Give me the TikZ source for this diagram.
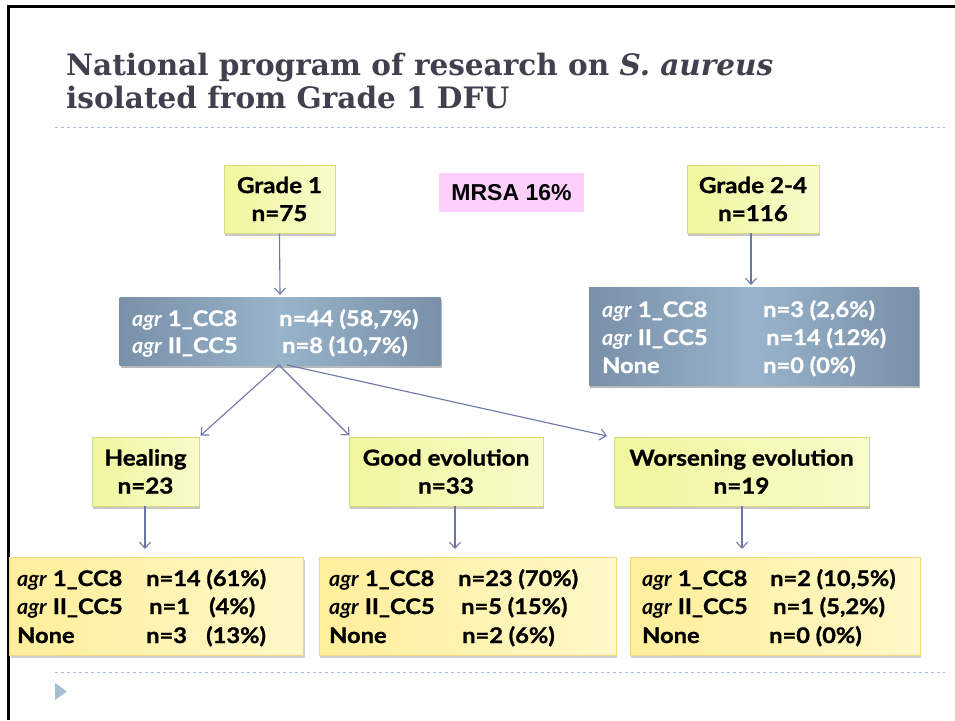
\documentclass[tikz,border=0pt]{standalone}
\usepackage{fontspec}
\setmainfont{Lato}[BoldFeatures={FakeBold=1.1, FakeStretch=1.1}]
\newfontfamily\titlefont{DejaVu Serif}
\newfontfamily\arialfont{Liberation Sans}
\usetikzlibrary{arrows.meta,shadows}
\definecolor{titlecol}{HTML}{40404E}
\definecolor{dashcol}{HTML}{A9BDD2}
\definecolor{arrowcol}{HTML}{6B76A6}
\definecolor{ybox}{HTML}{F0F69C}
\definecolor{yboxl}{HTML}{F8FBCB}
\definecolor{yborder}{HTML}{D5DD82}
\definecolor{gbox}{HTML}{FFEE9A}
\definecolor{gboxl}{HTML}{FFF8C8}
\definecolor{gborder}{HTML}{F2D784}
\definecolor{bbox}{HTML}{7890A8}
\definecolor{bboxl}{HTML}{98B3CA}
\definecolor{pinkbox}{HTML}{FDCFFB}
\definecolor{tricol}{HTML}{A6BED4}
\tikzset{
  ybx/.style={draw=yborder, line width=1pt, left color=ybox, right color=yboxl,
    drop shadow={shadow xshift=1pt, shadow yshift=-3pt, fill=black!22, opacity=1},
    align=center, font=\bfseries\fontsize{22}{28}\selectfont, inner sep=0pt},
  gbx/.style={draw=gborder, line width=1pt, left color=gbox, right color=gboxl,
    drop shadow={shadow xshift=1pt, shadow yshift=-3pt, fill=black!18, opacity=1}, inner sep=0pt},
  bbx/.style={draw=none, left color=bbox, right color=bbox, middle color=bboxl,
    drop shadow={shadow xshift=1pt, shadow yshift=-3pt, fill=black!28, opacity=1}, inner sep=0pt},
  txt/.style={anchor=base west, inner sep=0pt, font=\bfseries\fontsize{21.5}{24}\selectfont},
  wtxt/.style={txt, text=white},
  arr/.style={draw=arrowcol, line width=1.1pt, -{Straight Barb[length=6pt,width=11pt,line width=1.1pt]}},
  dashln/.style={draw=dashcol, line width=1pt, dash pattern=on 3pt off 3pt}
}
\newcommand{\ag}{\textit{agr}}
\begin{document}
\begin{tikzpicture}[x=1pt,y=-1pt]
\useasboundingbox (0,0) rectangle (955,720);
% slide frame
\draw[line width=3pt] (8,720) -- (8,6) -- (955,6);
% title
\node[anchor=base west, inner sep=0pt, text=titlecol, font=\titlefont\bfseries\fontsize{29.5}{33}\selectfont] (t1) at (66,75) {National program of research on \textit{S. aureus}};
\node[anchor=base west, inner sep=0pt, text=titlecol, font=\titlefont\bfseries\fontsize{29.5}{33}\selectfont] (t2) at (66,108) {isolated from Grade 1 DFU};
\coordinate (d1a) at (55,127); \coordinate (d1b) at (945,127);
\draw[dashln] (d1a) -- (d1b);
\coordinate (d2a) at (55,672); \coordinate (d2b) at (945,672);
\draw[dashln] (d2a) -- (d2b);
\fill[tricol] (55,683) -- (55,700) -- (67,691.5) -- cycle;

% top yellow boxes
\node[ybx, minimum width=111pt, minimum height=68pt] (g1) at (279.5,199) {Grade 1\\n=75};
\node[ybx, minimum width=132pt, minimum height=68pt] (g2) at (753,199) {Grade 2-4\\n=116};
% MRSA
\node[fill=pinkbox, minimum width=145pt, minimum height=39pt, inner sep=0pt, font=\arialfont\bfseries\fontsize{23}{24}\selectfont] (mrsa) at (511.5,192.5) {MRSA 16\%};

% blue boxes
\node[bbx, minimum width=321pt, minimum height=68pt] (b1) at (280,331) {};
\node[wtxt] (b1a) at (132,326) {\ag{} 1\_CC8};
\node[wtxt] (b1b) at (279,326) {n=44 (58,7\%)};
\node[wtxt] (b1c) at (132,353) {\ag{} II\_CC5};
\node[wtxt] (b1d) at (282,353) {n=8 (10,7\%)};

\node[bbx, minimum width=330pt, minimum height=98pt] (b2) at (754,336) {};
\node[wtxt] (b2a) at (602,317) {\ag{} 1\_CC8};
\node[wtxt] (b2b) at (763,317) {n=3 (2,6\%)};
\node[wtxt] (b2c) at (602,345) {\ag{} II\_CC5};
\node[wtxt] (b2d) at (766,345) {n=14 (12\%)};
\node[wtxt] (b2e) at (602,373) {None};
\node[wtxt] (b2f) at (763,373) {n=0 (0\%)};

% middle yellow boxes
\node[ybx, minimum width=107pt, minimum height=69pt] (heal) at (145.5,471.5) {Healing\\n=23};
\node[ybx, minimum width=194pt, minimum height=69pt] (good) at (446,471.5) {Good evolution\\n=33};
\node[ybx, minimum width=255pt, minimum height=69pt] (wors) at (741.5,471.5) {Worsening evolution\\n=19};

% bottom boxes
\node[gbx, minimum width=294pt, minimum height=98pt] (r1) at (156.5,606) {};
\node[txt] (r1a) at (17,586) {\ag{} 1\_CC8};
\node[txt] (r1b) at (146,586) {n=14 (61\%)};
\node[txt] (r1c) at (17,614) {\ag{} II\_CC5};
\node[txt] (r1d) at (149,614) {n=1};
\node[txt] (r1e) at (209,614) {(4\%)};
\node[txt] (r1f) at (17,643) {None};
\node[txt] (r1g) at (146,643) {n=3};
\node[txt] (r1h) at (206,643) {(13\%)};

\node[gbx, minimum width=297pt, minimum height=98pt] (r2) at (467.5,606) {};
\node[txt] (r2a) at (329,586) {\ag{} 1\_CC8};
\node[txt] (r2b) at (458,586) {n=23 (70\%)};
\node[txt] (r2c) at (329,614) {\ag{} II\_CC5};
\node[txt] (r2d) at (461,614) {n=5 (15\%)};
\node[txt] (r2e) at (329,643) {None};
\node[txt] (r2f) at (462,643) {n=2 (6\%)};

\node[gbx, minimum width=290pt, minimum height=98pt] (r3) at (775,606) {};
\node[txt] (r3a) at (642,586) {\ag{} 1\_CC8};
\node[txt] (r3b) at (770,586) {n=2 (10,5\%)};
\node[txt] (r3c) at (642,614) {\ag{} II\_CC5};
\node[txt] (r3d) at (773,614) {n=1 (5,2\%)};
\node[txt] (r3e) at (642,643) {None};
\node[txt] (r3f) at (769,643) {n=0 (0\%)};

% arrows
\coordinate (apex) at (279,365);
\coordinate (apex2) at (287,365);
\coordinate (wtip) at (607,436);
\coordinate (ga) at (455,506);
\coordinate (gb) at (455,549);
\coordinate (ha) at (145,506);
\coordinate (hb) at (145,549);
\coordinate (wa) at (742,506);
\coordinate (wb) at (742,549);
\coordinate (g2a) at (751,233);
\coordinate (g2b) at (751,285);
\draw[arr] (g1.south) -- ([yshift=2pt]b1.north);
\draw[arr] (g2a) -- (g2b);
\draw[arr] (apex) -- ([shift={(1pt,1pt)}]heal.north east);
\draw[arr] (apex) -- ([shift={(1pt,1pt)}]good.north west);
\draw[arr] (apex2) -- (wtip);
\draw[arr] (ha) -- (hb);
\draw[arr] (ga) -- (gb);
\draw[arr] (wa) -- (wb);
\end{tikzpicture}
\end{document}
